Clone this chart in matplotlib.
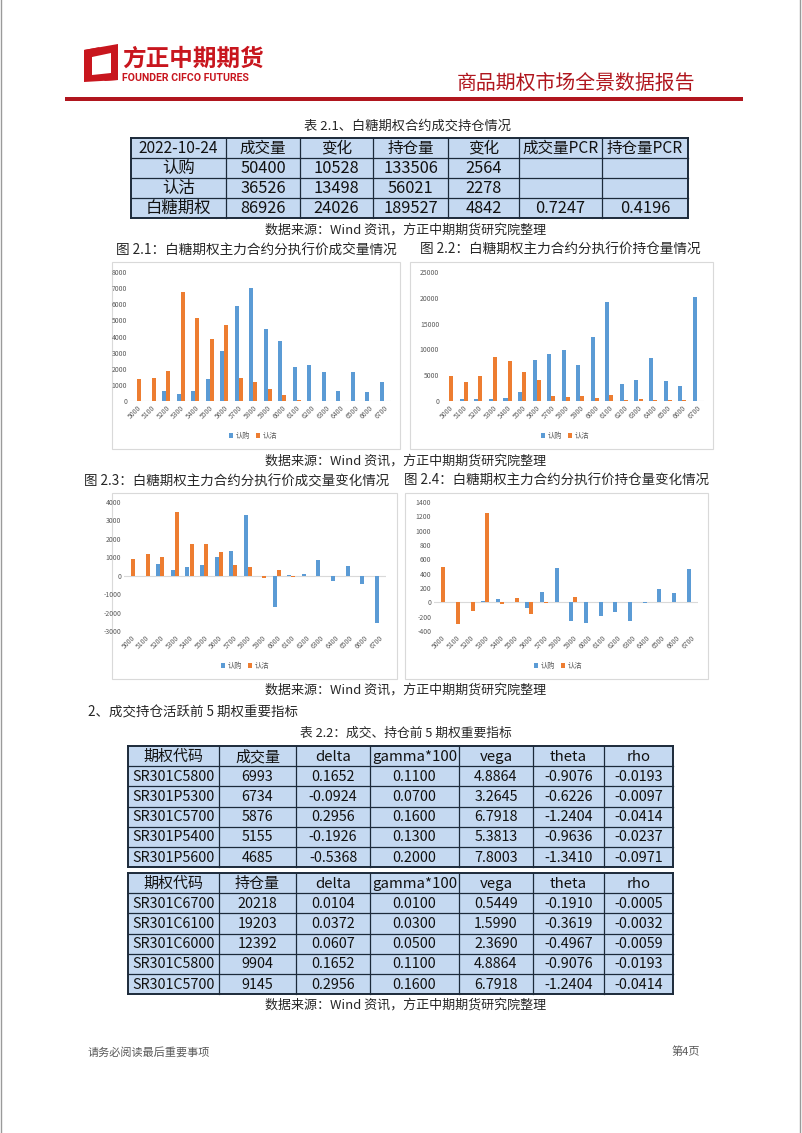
import matplotlib
matplotlib.use("Agg")
import matplotlib.pyplot as plt
from matplotlib.patches import Rectangle, Polygon
import numpy as np

plt.rcParams['font.family'] = ['Noto Sans CJK SC', 'DejaVu Sans']

W, H = 802, 1133

# ---------------- data ----------------
strikes = ['5000', '5100', '5200', '5300', '5400', '5500', '5600', '5700', '5800',
           '5900', '6000', '6100', '6200', '6300', '6400', '6500', '6600', '6700']
series_names = ['认购', '认沽']

vol_call = [0, 0, 640, 450, 640, 1380, 3080, 5876, 6993, 4440, 3740, 2090, 2210, 1820, 600, 1780, 560, 1180]
vol_put = [1380, 1400, 1880, 6734, 5155, 3820, 4685, 1450, 1160, 720, 350, 40, 0, 0, 0, 0, 0, 0]

oi_call = [0, 450, 350, 450, 600, 1680, 7860, 9145, 9904, 6960, 12392, 19203, 3220, 4060, 8310, 3930, 2900, 20218]
oi_put = [4900, 3610, 4900, 8570, 7730, 5670, 4060, 1030, 800, 1000, 600, 1100, 200, 450, 200, 200, 150, 0]

dvol_call = [0, 0, 610, 320, 460, 570, 1040, 1360, 3290, 0, -1680, 60, 120, 840, -270, 540, -430, -2550]
dvol_put = [930, 1160, 1020, 3450, 1700, 1700, 1300, 570, 450, -100, 300, -80, 0, 0, 0, 0, 0, 0]

doi_call = [0, 0, 10, 20, 40, 0, -80, 150, 480, -260, -290, -185, -140, -260, -10, 185, 130, 470]
doi_put = [500, -300, -115, 1245, -25, 65, -165, -10, 5, 80, 5, 0, 0, 0, 0, 0, 0, 0]

t1_header = ['2022-10-24', '成交量', '变化', '持仓量', '变化', '成交量PCR', '持仓量PCR']
t1_rows = [['认购', '50400', '10528', '133506', '2564', '', ''],
           ['认沽', '36526', '13498', '56021', '2278', '', ''],
           ['白糖期权', '86926', '24026', '189527', '4842', '0.7247', '0.4196']]

t2_header = ['期权代码', '成交量', 'delta', 'gamma*100', 'vega', 'theta', 'rho']
t2_rows = [['SR301C5800', '6993', '0.1652', '0.1100', '4.8864', '-0.9076', '-0.0193'],
           ['SR301P5300', '6734', '-0.0924', '0.0700', '3.2645', '-0.6226', '-0.0097'],
           ['SR301C5700', '5876', '0.2956', '0.1600', '6.7918', '-1.2404', '-0.0414'],
           ['SR301P5400', '5155', '-0.1926', '0.1300', '5.3813', '-0.9636', '-0.0237'],
           ['SR301P5600', '4685', '-0.5368', '0.2000', '7.8003', '-1.3410', '-0.0971']]

t3_header = ['期权代码', '持仓量', 'delta', 'gamma*100', 'vega', 'theta', 'rho']
t3_rows = [['SR301C6700', '20218', '0.0104', '0.0100', '0.5449', '-0.1910', '-0.0005'],
           ['SR301C6100', '19203', '0.0372', '0.0300', '1.5990', '-0.3619', '-0.0032'],
           ['SR301C6000', '12392', '0.0607', '0.0500', '2.3690', '-0.4967', '-0.0059'],
           ['SR301C5800', '9904', '0.1652', '0.1100', '4.8864', '-0.9076', '-0.0193'],
           ['SR301C5700', '9145', '0.2956', '0.1600', '6.7918', '-1.2404', '-0.0414']]

BLUE = '#5B9BD5'
ORANGE = '#ED7D31'
RED = '#C8161E'
CELL = '#C5D9F1'
TXT = '#262626'

fig = plt.figure(figsize=(W / 100, H / 100), dpi=100)
bg = fig.add_axes([0, 0, 1, 1])
bg.set_xlim(0, W)
bg.set_ylim(H, 0)
bg.axis('off')

# page border
bg.add_patch(Rectangle((0.5, -5), W - 3, H + 10, fill=False, ec='#9a9a9a', lw=1.0))

# ---------------- header ----------------
bg.add_patch(Polygon([(84, 50), (118, 44), (118, 80), (84, 82)], closed=True, fc=RED, ec='none'))
bg.add_patch(Polygon([(92, 57), (111, 53), (111, 73), (92, 75)], closed=True, fc='white', ec='none'))
bg.add_patch(Polygon([(84, 50), (100, 47), (92, 57), (84, 58)], closed=True, fc=RED, ec='none'))
bg.add_patch(Polygon([(111, 66), (118, 64), (118, 80), (104, 81), (111, 73)], closed=True, fc=RED, ec='none'))
bg.text(122, 59, '方正中期期货', fontsize=17, fontweight='bold', color=RED, va='center', ha='left')
bg.text(122, 78, 'FOUNDER CIFCO FUTURES', fontsize=7.6, fontweight='bold', color=RED,
        va='center', ha='left', family=['Roboto', 'DejaVu Sans'])
bg.text(695, 83, '商品期权市场全景数据报告', fontsize=14.3, color='#B0161E', va='center', ha='right')
bg.add_patch(Rectangle((65, 97), 678, 4, fc='#B0161E', ec='none'))


def draw_table(x_edges, y_top, row_h, header, rows, fs, hfs):
    nrows = len(rows) + 1
    y_bot = y_top + row_h * nrows
    bg.add_patch(Rectangle((x_edges[0], y_top), x_edges[-1] - x_edges[0], y_bot - y_top,
                           fc=CELL, ec='none'))
    for r in range(nrows + 1):
        lw = 1.4 if r in (0, nrows) else 0.9
        bg.plot([x_edges[0], x_edges[-1]], [y_top + r * row_h] * 2, color='#1c2a3a', lw=lw,
                solid_capstyle='projecting')
    for i, xe in enumerate(x_edges):
        lw = 1.4 if i in (0, len(x_edges) - 1) else 0.9
        bg.plot([xe, xe], [y_top, y_bot], color='#1c2a3a', lw=lw, solid_capstyle='projecting')
    allrows = [header] + rows
    for r, row in enumerate(allrows):
        for c, val in enumerate(row):
            cx = (x_edges[c] + x_edges[c + 1]) / 2
            cy = y_top + (r + 0.5) * row_h
            bg.text(cx, cy + 0.5, val, fontsize=hfs if r == 0 else fs, color='#111111',
                    ha='center', va='center')


def source(y):
    bg.text(406, y, '数据来源：Wind 资讯，方正中期期货研究院整理', fontsize=9.4, color=TXT,
            ha='center', va='center')


# ---------------- table 2.1 ----------------
bg.text(407, 126, '表 2.1、白糖期权合约成交持仓情况', fontsize=9.5, color=TXT, ha='center', va='center')
draw_table([131, 226, 300, 373, 448, 519, 602, 688], 138, 20, t1_header, t1_rows, 11.8, 11.2)
source(230)

bg.text(256, 250, '图 2.1：白糖期权主力合约分执行价成交量情况', fontsize=9.8, color=TXT, ha='center', va='center')
bg.text(560, 250, '图 2.2：白糖期权主力合约分执行价持仓量情况', fontsize=9.8, color=TXT, ha='center', va='center')
source(461)
bg.text(237, 481, '图 2.3：白糖期权主力合约分执行价成交量变化情况', fontsize=9.7, color=TXT, ha='center', va='center')
bg.text(557, 481, '图 2.4：白糖期权主力合约分执行价持仓量变化情况', fontsize=9.7, color=TXT, ha='center', va='center')
source(690)

# chart boxes
for (x0, y0, x1, y1) in [(112, 262, 400, 449), (410, 262, 713, 449), (112, 493, 397, 679), (405, 493, 708, 679)]:
    bg.add_patch(Rectangle((x0, y0), x1 - x0, y1 - y0, fill=False, ec='#D9D9D9', lw=0.8))


def chart(x_left, x_right, y_top_px, y_bot_px, ymin, ymax, yticks, call, put, legend_xy):
    ax = fig.add_axes([x_left / W, 1 - y_bot_px / H, (x_right - x_left) / W, (y_bot_px - y_top_px) / H])
    x = np.arange(len(strikes))
    bw = 0.28
    ax.bar(x - bw / 2, call, width=bw, color=BLUE, label=series_names[0], zorder=3)
    ax.bar(x + bw / 2, put, width=bw, color=ORANGE, label=series_names[1], zorder=3)
    ax.set_xlim(-0.5, len(strikes) - 0.5)
    ax.set_ylim(ymin, ymax)
    ax.set_yticks(yticks)
    ax.set_yticklabels([str(v) for v in yticks], fontsize=4.9, color='#595959')
    ax.set_xticks(x)
    ax.set_xticklabels(strikes, rotation=45, ha='right', rotation_mode='anchor',
                       fontsize=4.9, color='#595959')
    ax.tick_params(length=0, pad=2)
    for s in ax.spines.values():
        s.set_visible(False)
    ax.axhline(0, color='#D9D9D9', lw=0.8, zorder=2)
    ax.patch.set_alpha(0)
    lx, ly = legend_xy
    fig.legend(*ax.get_legend_handles_labels(), loc='center',
               bbox_to_anchor=(lx / W, 1 - ly / H), ncol=2, frameon=False,
               fontsize=5.2, handlelength=0.6, handleheight=0.6, handletextpad=0.3,
               columnspacing=0.8, labelcolor='#595959')
    return ax


chart(130, 391, 272, 401, 0, 8000, list(range(0, 8001, 1000)), vol_call, vol_put, (253, 436))
chart(442, 704, 272, 401, 0, 25000, list(range(0, 25001, 5000)), oi_call, oi_put, (565, 436))
chart(124, 386, 502, 631, -3000, 4000, list(range(-3000, 4001, 1000)), dvol_call, dvol_put, (245, 666))
chart(434, 698, 502, 631, -400, 1400, list(range(-400, 1401, 200)), doi_call, doi_put, (558, 666))

# ---------------- section 2 ----------------
bg.text(88, 712, '2、成交持仓活跃前 5 期权重要指标', fontsize=9.7, color=TXT, ha='left', va='center')
bg.text(406, 733, '表 2.2：成交、持仓前 5 期权重要指标', fontsize=9.2, color=TXT, ha='center', va='center')
cols2 = [128, 219, 296, 370, 459, 533, 604, 673]
draw_table(cols2, 746, 20.2, t2_header, t2_rows, 10.3, 10.8)
draw_table(cols2, 873, 20.2, t3_header, t3_rows, 10.3, 10.8)
source(1005)

# footer
bg.text(88, 1052, '请务必阅读最后重要事项', fontsize=8, color='#595959', ha='left', va='center')
bg.text(700, 1052, '第4页', fontsize=8, color='#595959', ha='right', va='center')

fig.savefig('out.png', dpi=100)
